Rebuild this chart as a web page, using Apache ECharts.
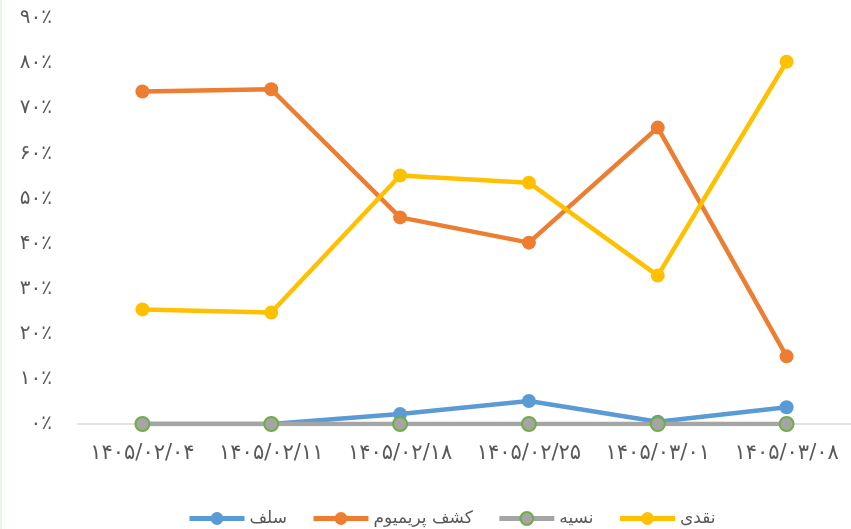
<!DOCTYPE html>
<html><head><meta charset="utf-8">
<script src="https://cdn.jsdelivr.net/npm/echarts@6/dist/echarts.min.js"></script>
<style>html,body{margin:0;padding:0;background:#fff}#c{width:851px;height:529px}</style>
</head><body><div id="c"></div>
<script>
const categories = ['۱۴۰۵/۰۲/۰۴','۱۴۰۵/۰۲/۱۱','۱۴۰۵/۰۲/۱۸','۱۴۰۵/۰۲/۲۵','۱۴۰۵/۰۳/۰۱','۱۴۰۵/۰۳/۰۸'];
const salaf = [0, 0, 2.2, 5.1, 0.5, 3.7];
const premium = [73.7, 74.2, 45.8, 40.2, 65.7, 15.0];
const nesiye = [0, 0, 0, 0, 0, 0];
const naqdi = [25.4, 24.7, 55.1, 53.5, 32.9, 80.3];
const seriesNames = ['سلف','کشف پریمیوم','نسیه','نقدی'];
const yTicks = ['۰٪','۱۰٪','۲۰٪','۳۰٪','۴۰٪','۵۰٪','۶۰٪','۷۰٪','۸۰٪','۹۰٪'];

const font = "'DejaVu Sans', 'Noto Sans', sans-serif";
const chart = echarts.init(document.getElementById('c'));
function mk(name, data, color, extra) {
  return Object.assign({
    name, type: 'line', data,
    symbol: 'circle', symbolSize: 14,
    lineStyle: { width: 4.5, color },
    itemStyle: { color },
    emphasis: { disabled: true },
    animation: false
  }, extra || {});
}
chart.setOption({
  animation: false,
  graphic: [{ type: 'rect', left: 0, top: 0, shape: { width: 2, height: 529 }, style: { fill: '#e9f4e1' } }],
  grid: { left: 78, right: 0, top: 18, bottom: 105, containLabel: false },
  xAxis: {
    type: 'category', data: categories, boundaryGap: true,
    axisLine: { lineStyle: { color: '#d9d9d9', width: 1.5 } },
    axisTick: { show: false },
    axisLabel: { color: '#595959', fontSize: 21, fontFamily: font, margin: 19, interval: 0 }
  },
  yAxis: {
    type: 'value', min: 0, max: 90, interval: 10,
    splitLine: { show: false },
    axisLine: { show: false }, axisTick: { show: false },
    axisLabel: { color: '#595959', fontSize: 20, fontFamily: font, margin: 26,
      formatter: v => yTicks[Math.round(v / 10)] }
  },
  legend: {
    top: 505, left: 182, itemWidth: 55, itemHeight: 16, itemGap: 24,
    lineStyle: { width: 5 },
    textStyle: { color: '#595959', fontSize: 17, fontFamily: font },
    data: seriesNames
  },
  series: [
    mk(seriesNames[0], salaf, '#5b9bd5'),
    mk(seriesNames[1], premium, '#ed7d31'),
    mk(seriesNames[2], nesiye, '#a5a5a5', { itemStyle: { color: '#a5a5a5', borderColor: '#70ad47', borderWidth: 2 } }),
    mk(seriesNames[3], naqdi, '#ffc000')
  ]
});
</script></body></html>
